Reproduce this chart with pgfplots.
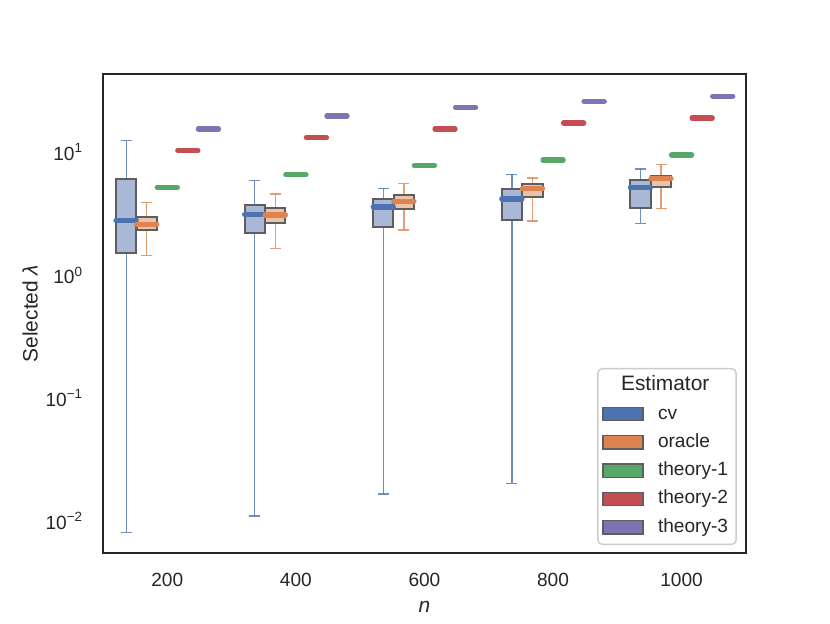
\documentclass[border=0pt]{standalone}
\usepackage{pgfplots}
\pgfplotsset{compat=1.18}
\usetikzlibrary{calc}
\usepackage{fontspec}
\setmainfont{Liberation Sans}
\definecolor{cvc}{HTML}{4C72B0}
\definecolor{orc}{HTML}{DD8452}
\definecolor{t1c}{HTML}{55A868}
\definecolor{t2c}{HTML}{C44E52}
\definecolor{t3c}{HTML}{8172B3}
\definecolor{cvface}{HTML}{A8B8D6}
\definecolor{orface}{HTML}{ECC2A9}
\definecolor{edgec}{HTML}{5E5E5E}
\definecolor{axc}{HTML}{262626}
\definecolor{legedge}{HTML}{CCCCCC}
\pgfplotsset{
  whisk/.style={draw=#1, line width=0.7pt, opacity=0.8, unbounded coords=jump, forget plot, mark=none},
  caps/.style={only marks, mark=-, mark size=3.05pt, forget plot,
    mark options={line width=0.7pt, draw=#1, opacity=0.8}},
  boxs/.style={draw=edgec, line width=1.1pt, fill=#1, forget plot, mark=none},
  thstyle/.style={only marks, mark=-, mark size=5.6pt, forget plot,
    mark options={line width=2.9pt, line cap=round, draw=#1}},
  swatch/.style={legend image code/.code={
    \draw[sharp corners, draw=edgec, line width=0.8pt, fill=#1] (0pt,-3.7pt) rectangle (22.2pt,3.7pt);}},
}
\begin{document}
\begin{tikzpicture}
\begin{axis}[
  scale only axis, width=356.9pt, height=265.9pt,
  xmin=-0.5, xmax=4.5, ymode=log, ymin=0.00549, ymax=43.1,
  xtick={0,1,2,3,4}, xticklabels={200,400,600,800,1000},
  ytick={0.01,0.1,1,10},
  yticklabels={10\textsuperscript{−2},10\textsuperscript{−1},10\textsuperscript{0},10\textsuperscript{1}},
  major tick length=0pt, minor tick length=0pt,
  axis line style={draw=axc, line width=1.25pt},
  tick label style={font=\fontsize{10.6}{12}\selectfont, text=axc},
  xticklabel style={yshift=-7.8pt},
  yticklabel style={xshift=-7.6pt},
  every axis x label/.style={at={(axis description cs:0.5,0)}, anchor=center, yshift=-29.8pt, font=\fontsize{11.6}{13}\selectfont, text=axc},
  every axis y label/.style={at={(axis description cs:-0.1135,0.5)}, rotate=90, anchor=center, font=\fontsize{11.6}{13}\selectfont, text=axc},
  xlabel={\textit{n}}, ylabel={Selected \textit{λ}},
  legend cell align=left,
  legend style={at={(0.986,0.0166)}, anchor=south east, draw=legedge, line width=0.8pt,
    rounded corners=2.5pt, fill=white, text=axc, inner sep=2.5pt,
    font=\fontsize{10.6}{12}\selectfont, column sep=5.9pt, row sep=1.7pt,
    nodes={inner sep=2pt, text height=7.8pt, text depth=2.2pt}},
]
% ---- cv: whiskers (lower whisker to upper whisker), caps, boxes (Q1..Q3)
\addplot[whisk=cvc] coordinates {(-0.32,0.0081) (-0.32,12.4) (nan,nan)
  (0.68,0.0110) (0.68,5.89) (nan,nan) (1.68,0.0166) (1.68,5.07) (nan,nan)
  (2.68,0.0202) (2.68,6.59) (nan,nan) (3.68,2.63) (3.68,7.27)};
\addplot[caps=cvc] coordinates {(-0.32,0.0081) (-0.32,12.4) (0.68,0.0110) (0.68,5.89)
  (1.68,0.0166) (1.68,5.07) (2.68,0.0202) (2.68,6.59) (3.68,2.63) (3.68,7.27)};
\addplot[boxs=cvface] coordinates {(-0.3985,1.52) (-0.2415,1.52) (-0.2415,6.03) (-0.3985,6.03)} -- cycle;
\addplot[boxs=cvface] coordinates {(0.6015,2.21) (0.7585,2.21) (0.7585,3.73) (0.6015,3.73)} -- cycle;
\addplot[boxs=cvface] coordinates {(1.6015,2.44) (1.7585,2.44) (1.7585,4.12) (1.6015,4.12)} -- cycle;
\addplot[boxs=cvface] coordinates {(2.6015,2.82) (2.7585,2.82) (2.7585,4.98) (2.6015,4.98)} -- cycle;
\addplot[boxs=cvface] coordinates {(3.6015,3.49) (3.7585,3.49) (3.7585,5.96) (3.6015,5.96)} -- cycle;
% ---- oracle
\addplot[whisk=orc] coordinates {(-0.16,1.45) (-0.16,3.90) (nan,nan)
  (0.84,1.65) (0.84,4.56) (nan,nan) (1.84,2.32) (1.84,5.53) (nan,nan)
  (2.84,2.75) (2.84,6.15) (nan,nan) (3.84,3.46) (3.84,7.88)};
\addplot[caps=orc] coordinates {(-0.16,1.45) (-0.16,3.90) (0.84,1.65) (0.84,4.56)
  (1.84,2.32) (1.84,5.53) (2.84,2.75) (2.84,6.15) (3.84,3.46) (3.84,7.88)};
\addplot[boxs=orface] coordinates {(-0.2385,2.31) (-0.0815,2.31) (-0.0815,2.96) (-0.2385,2.96)} -- cycle;
\addplot[boxs=orface] coordinates {(0.7615,2.65) (0.9185,2.65) (0.9185,3.51) (0.7615,3.51)} -- cycle;
\addplot[boxs=orface] coordinates {(1.7615,3.44) (1.9185,3.44) (1.9185,4.47) (1.7615,4.47)} -- cycle;
\addplot[boxs=orface] coordinates {(2.7615,4.33) (2.9185,4.33) (2.9185,5.50) (2.7615,5.50)} -- cycle;
\addplot[boxs=orface] coordinates {(3.7615,5.16) (3.9185,5.16) (3.9185,6.42) (3.7615,6.42)} -- cycle;
% ---- medians
\addplot[thstyle=cvc] coordinates {(-0.32,2.78) (0.68,3.11) (1.68,3.57) (2.68,4.15) (3.68,5.16)};
\addplot[thstyle=orc] coordinates {(-0.16,2.58) (0.84,3.07) (1.84,3.97) (2.84,5.03) (3.84,6.07)};
% ---- theory (constant values)
\addplot[thstyle=t1c] coordinates {(0,5.16) (1,6.54) (2,7.74) (3,8.61) (4,9.45)};
\addplot[thstyle=t2c] coordinates {(0.16,10.3) (1.16,13.1) (2.16,15.4) (3.16,17.2) (4.16,18.9)};
\addplot[thstyle=t3c] coordinates {(0.32,15.4) (1.32,19.6) (2.32,23.1) (3.32,25.8) (4.32,28.4)};
% ---- legend
\addlegendimage{empty legend}
\addlegendentry{\hspace*{-20.5pt}\fontsize{11.6}{13}\selectfont Estimator}
\addlegendimage{swatch=cvc}\addlegendentry{cv}
\addlegendimage{swatch=orc}\addlegendentry{oracle}
\addlegendimage{swatch=t1c}\addlegendentry{theory-1}
\addlegendimage{swatch=t2c}\addlegendentry{theory-2}
\addlegendimage{swatch=t3c}\addlegendentry{theory-3}
\end{axis}
\pgfresetboundingbox
\path[use as bounding box] ($(current axis.south west)+(-57.18pt,-38.87pt)$) rectangle ($(current axis.north east)+(46.7pt,41.08pt)$);
\end{tikzpicture}
\end{document}
